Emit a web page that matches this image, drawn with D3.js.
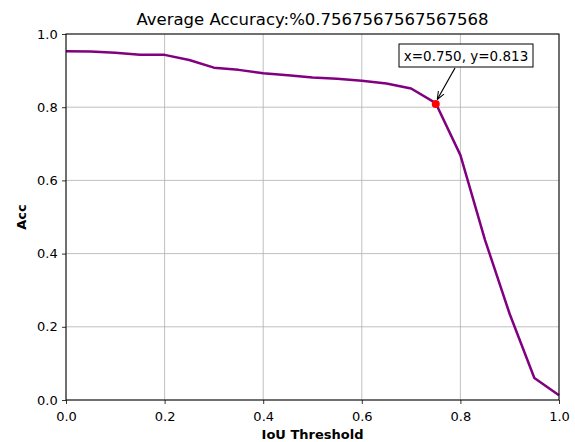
<!DOCTYPE html>
<html><head><meta charset="utf-8">
<script src="https://cdn.jsdelivr.net/npm/d3@7"></script>
<style>body{margin:0;background:#fff}svg{display:block}text{font-family:"DejaVu Sans",sans-serif}</style>
</head><body><svg id="c" width="575" height="442"></svg>
<script>
const thresholds = [0,0.05,0.1,0.15,0.2,0.25,0.3,0.35,0.4,0.45,0.5,0.55,0.6,0.65,0.7,0.75,0.8,0.85,0.9,0.95,1.0];
const accuracy = [0.953,0.952,0.949,0.943,0.943,0.929,0.908,0.902,0.893,0.887,0.881,0.878,0.872,0.865,0.851,0.811,0.669,0.437,0.235,0.060,0.013];
const xTicks = [0,0.2,0.4,0.6,0.8,1.0];
const yTicks = [0,0.2,0.4,0.6,0.8,1.0];
const highlight = {x:0.75, y:0.813};
const title = "Average Accuracy:%0.7567567567567568";

const svg = d3.select("#c");
const L=66,R=559,T=34,B=400;
const x = d3.scaleLinear().domain([0,1]).range([L,R]);
const y = d3.scaleLinear().domain([0,1]).range([B,T]);

// grid
svg.append("g").selectAll("line").data(xTicks).join("line")
  .attr("x1",d=>x(d)).attr("x2",d=>x(d)).attr("y1",T).attr("y2",B)
  .attr("stroke","#b0b0b0").attr("stroke-width",0.8);
svg.append("g").selectAll("line").data(yTicks).join("line")
  .attr("y1",d=>y(d)).attr("y2",d=>y(d)).attr("x1",L).attr("x2",R)
  .attr("stroke","#b0b0b0").attr("stroke-width",0.8);

// line
svg.append("path").datum(thresholds.map((t,i)=>[t,accuracy[i]]))
  .attr("d",d3.line().x(d=>x(d[0])).y(d=>y(d[1])))
  .attr("fill","none").attr("stroke","#800080").attr("stroke-width",2.5).attr("stroke-linejoin","round");

// highlight
svg.append("circle").attr("cx",x(highlight.x)).attr("cy",y(highlight.y)+1.5).attr("r",4).attr("fill","#ff0000");

// axes
const xa = svg.append("g").attr("transform",`translate(0,${B})`).call(d3.axisBottom(x).tickValues(xTicks).tickFormat(d3.format(".1f")).tickSize(4).tickSizeOuter(0));
const ya = svg.append("g").attr("transform",`translate(${L},0)`).call(d3.axisLeft(y).tickValues(yTicks).tickFormat(d3.format(".1f")).tickSize(4).tickSizeOuter(0));
[xa,ya].forEach(a=>{a.selectAll("text").attr("font-size",13).attr("fill","#000").attr("font-family","DejaVu Sans");a.select(".domain").remove();a.selectAll("line").attr("stroke","#000").attr("stroke-width",0.8);});
xa.selectAll("text").attr("dy","1.08em");
ya.selectAll("text").attr("dx","-0.1em");

// frame
svg.append("rect").attr("x",L).attr("y",T).attr("width",R-L).attr("height",B-T)
  .attr("fill","none").attr("stroke","#000").attr("stroke-width",1);

// annotation
const defs = svg.append("defs");
defs.append("marker").attr("id","ah").attr("viewBox","0 0 10 10").attr("refX",10).attr("refY",5)
  .attr("markerWidth",8).attr("markerHeight",8).attr("orient","auto-start-reverse").attr("markerUnits","userSpaceOnUse")
  .append("path").attr("d","M0,1 L10,5 L0,9").attr("fill","none").attr("stroke","#000").attr("stroke-width",1.3);
const ax = x(highlight.x), ay = y(highlight.y);
svg.append("line").attr("x1",455).attr("y1",68).attr("x2",ax+1.5).attr("y2",ay-3)
  .attr("stroke","#000").attr("stroke-width",1.2).attr("marker-end","url(#ah)");
svg.append("rect").attr("x",399).attr("y",44).attr("width",134).attr("height",23)
  .attr("fill","#fff").attr("stroke","#000").attr("stroke-width",1);
svg.append("text").attr("x",466).attr("y",55.5).attr("text-anchor","middle").attr("dominant-baseline","central")
  .attr("font-size",13.5).text(`x=${highlight.x.toFixed(3)}, y=${highlight.y.toFixed(3)}`);

// labels
svg.append("text").attr("x",(L+R)/2).attr("y",25).attr("text-anchor","middle").attr("font-size",16.5).text(title);
svg.append("text").attr("x",(L+R)/2).attr("y",439).attr("text-anchor","middle").attr("font-size",13).attr("font-weight","bold").text("IoU Threshold");
svg.append("text").attr("transform",`translate(26,${(T+B)/2}) rotate(-90)`).attr("text-anchor","middle").attr("font-size",13).attr("font-weight","bold").text("Acc");
</script></body></html>
